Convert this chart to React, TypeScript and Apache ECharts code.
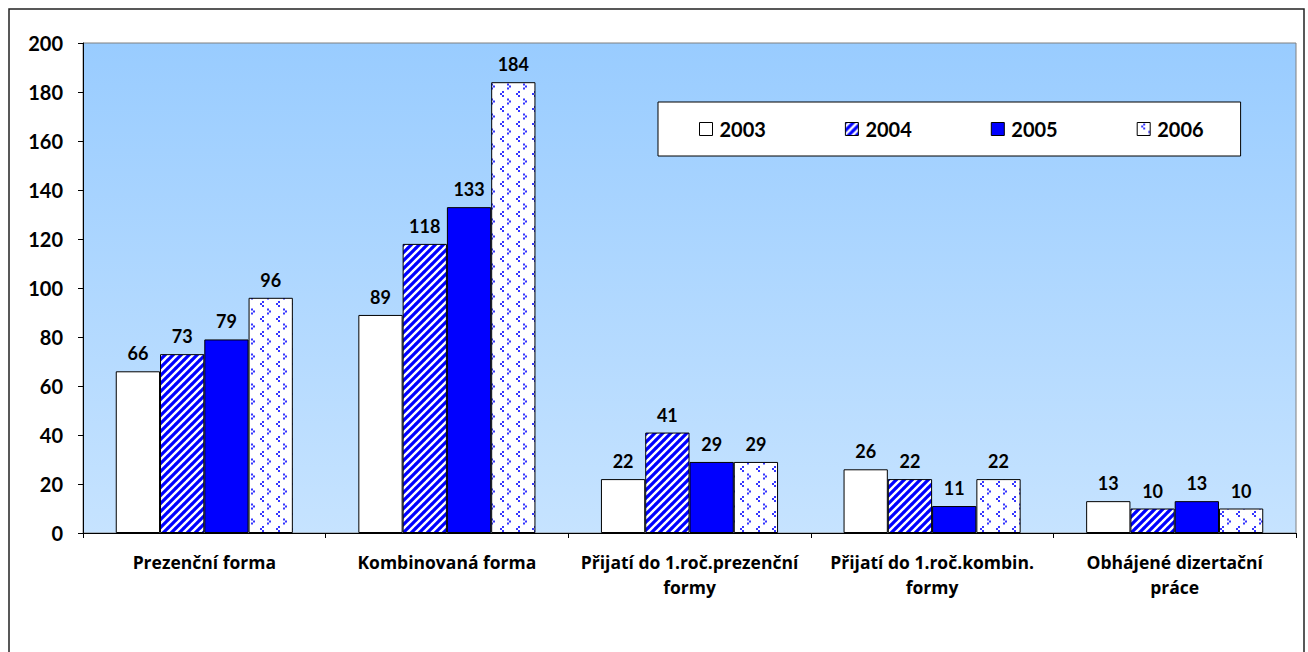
import React, { useEffect, useRef } from 'react';
import * as echarts from 'echarts';

const categories = [
  'Prezenční forma',
  'Kombinovaná forma',
  'Přijatí do 1.roč.prezenční\nformy',
  'Přijatí do 1.roč.kombin.\nformy',
  'Obhájené dizertační\npráce',
];
const years = ['2003', '2004', '2005', '2006'];
const values2003 = [66, 89, 22, 26, 13];
const values2004 = [73, 118, 41, 22, 10];
const values2005 = [79, 133, 29, 11, 13];
const values2006 = [96, 184, 29, 22, 10];
const yMin = 0;
const yMax = 200;
const yStep = 20;

const FONT = 'Lato, "DejaVu Sans", sans-serif';
const CAT_FONT = '"Open Sans", Lato, sans-serif';

function stripeCanvas() {
  const c = document.createElement('canvas');
  c.width = 8;
  c.height = 8;
  const g = c.getContext('2d')!;
  g.fillStyle = '#ffffff';
  g.fillRect(0, 0, 8, 8);
  g.strokeStyle = '#0000ff';
  g.lineWidth = 3.2;
  g.beginPath();
  for (const o of [-8, 0, 8]) {
    g.moveTo(o - 1, 9);
    g.lineTo(o + 9, -1);
  }
  g.stroke();
  return c;
}

function chevronCanvas() {
  const c = document.createElement('canvas');
  c.width = 16;
  c.height = 15;
  const g = c.getContext('2d')!;
  g.fillStyle = '#ffffff';
  g.fillRect(0, 0, 16, 15);
  g.fillStyle = '#3535ff';
  const dot = (x: number, y: number) => g.fillRect(x, y, 2, 2);
  // "<"
  dot(6, 1);
  dot(4, 3);
  dot(6, 5);
  // ">"
  dot(11, 8.5);
  dot(13, 10.5);
  dot(11, 12.5);
  return c;
}

export default function App() {
  const ref = useRef<HTMLDivElement>(null);
  useEffect(() => {
    if (!ref.current) return;
    const chart = echarts.init(ref.current, undefined, { renderer: 'svg' });
    const fills = [
      '#ffffff',
      { image: stripeCanvas(), repeat: 'repeat' },
      '#0000ff',
      { image: chevronCanvas(), repeat: 'repeat' },
    ];
    const seriesData = [values2003, values2004, values2005, values2006];
    const option: any = {
      animation: false,
      backgroundColor: '#ffffff',
      graphic: [
        {
          type: 'rect',
          silent: true,
          shape: { x: 9, y: 9, width: 1295, height: 700 },
          style: { fill: 'none', stroke: '#222', lineWidth: 1.5 },
        },
      ],
      grid: {
        left: 83,
        right: 12,
        top: 43,
        bottom: 119,
        show: true,
        borderColor: '#808080',
        borderWidth: 1,
        backgroundColor: new echarts.graphic.LinearGradient(0, 0, 0, 1, [
          { offset: 0, color: '#99CCFF' },
          { offset: 1, color: '#C6E3FF' },
        ]),
      },
      legend: {
        data: years,
        left: 658,
        top: 102,
        orient: 'horizontal',
        icon: 'rect',
        itemWidth: 13,
        itemHeight: 13,
        itemGap: 79,
        padding: [17, 37, 17, 41],
        backgroundColor: '#ffffff',
        borderColor: '#000',
        borderWidth: 1,
        itemStyle: { borderColor: '#000', borderWidth: 1 },
        textStyle: {
          fontFamily: FONT,
          fontWeight: 'bold',
          fontSize: 20,
          color: '#000',
          padding: [0, 0, 0, 2],
        },
      },
      xAxis: {
        type: 'category',
        data: categories,
        axisLine: { show: true, lineStyle: { color: '#000', width: 1 } },
        axisTick: { show: true, length: 5, lineStyle: { color: '#000' } },
        axisLabel: {
          interval: 0,
          fontFamily: CAT_FONT,
          fontWeight: 'bold',
          fontSize: 17.5,
          lineHeight: 25,
          color: '#000',
          margin: 16,
        },
      },
      yAxis: {
        type: 'value',
        min: yMin,
        max: yMax,
        interval: yStep,
        axisLine: { show: true, lineStyle: { color: '#000', width: 1 } },
        axisTick: { show: true, length: 5, lineStyle: { color: '#000' } },
        splitLine: { show: false },
        axisLabel: {
          fontFamily: FONT,
          fontWeight: 'bold',
          fontSize: 20,
          color: '#000',
          margin: 20,
        },
      },
      series: years.map((y, i) => ({
        name: y,
        type: 'bar',
        data: seriesData[i],
        barGap: '0%',
        barCategoryGap: '27%',
        itemStyle: { color: fills[i], borderColor: '#000', borderWidth: 1 },
        label: {
          show: true,
          position: 'top',
          distance: 9,
          fontFamily: FONT,
          fontWeight: 'bold',
          fontSize: 18,
          color: '#000',
        },
      })),
    };
    chart.setOption(option);
    return () => chart.dispose();
  }, []);
  return (
    <div
      ref={ref}
      style={{ position: 'absolute', left: 0, top: 0, width: 1308, height: 652 }}
    />
  );
}
